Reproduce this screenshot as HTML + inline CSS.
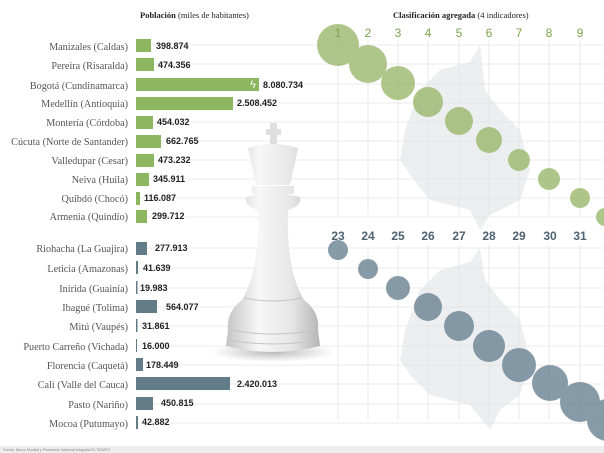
<!DOCTYPE html>
<html><head><meta charset="utf-8"><style>
body{margin:0;background:#fff}
svg{display:block}
.l{font-family:"Liberation Serif",serif;font-size:10.2px;fill:#555;text-anchor:end}
.v{font-family:"Liberation Sans",sans-serif;font-size:9px;font-weight:bold;fill:#222}
.n{font-family:"Liberation Sans",sans-serif;font-size:12px;text-anchor:middle}
</style></head><body>
<svg width="604" height="453" viewBox="0 0 604 453" xmlns="http://www.w3.org/2000/svg">
<defs>
<linearGradient id="k" x1="0" x2="1"><stop offset="0" stop-color="#c4c4c4"/><stop offset="0.35" stop-color="#f7f7f7"/><stop offset="0.7" stop-color="#e6e6e6"/><stop offset="1" stop-color="#b4b4b4"/></linearGradient>
<radialGradient id="sh"><stop offset="0" stop-color="#888" stop-opacity=".6"/><stop offset="1" stop-color="#999" stop-opacity="0"/></radialGradient>
</defs>
<path d="M480 45 L470 62 L440 70 L420 90 L405 130 L400 160 L410 175 L430 200 L470 210 L480 230 L490 215 L520 200 L530 170 L520 130 L500 110 L485 90 Z" fill="#eceef0"/>
<path d="M480 248 L470 262 L440 270 L420 290 L405 330 L400 360 L410 375 L430 395 L470 405 L490 430 L500 410 L520 395 L530 360 L520 320 L500 300 L485 280 Z" fill="#eceef0"/>
<g stroke="#e4e4e4" stroke-width="0.8">
<line x1="136" y1="45" x2="604" y2="45"/><line x1="136" y1="64" x2="604" y2="64"/><line x1="136" y1="84" x2="604" y2="84"/><line x1="136" y1="103" x2="604" y2="103"/><line x1="136" y1="122" x2="604" y2="122"/><line x1="136" y1="141" x2="604" y2="141"/><line x1="136" y1="160" x2="604" y2="160"/><line x1="136" y1="179" x2="604" y2="179"/><line x1="136" y1="198" x2="604" y2="198"/><line x1="136" y1="217" x2="604" y2="217"/>
<line x1="136" y1="248" x2="604" y2="248"/><line x1="136" y1="268" x2="604" y2="268"/><line x1="136" y1="288" x2="604" y2="288"/><line x1="136" y1="307" x2="604" y2="307"/><line x1="136" y1="326" x2="604" y2="326"/><line x1="136" y1="346" x2="604" y2="346"/><line x1="136" y1="365" x2="604" y2="365"/><line x1="136" y1="384" x2="604" y2="384"/><line x1="136" y1="404" x2="604" y2="404"/><line x1="136" y1="423" x2="604" y2="423"/>
<g id="vg"><line x1="338" y1="40" x2="338" y2="215"/><line x1="368" y1="40" x2="368" y2="215"/><line x1="398" y1="40" x2="398" y2="215"/><line x1="428" y1="40" x2="428" y2="215"/><line x1="459" y1="40" x2="459" y2="215"/><line x1="489" y1="40" x2="489" y2="215"/><line x1="519" y1="40" x2="519" y2="215"/><line x1="549" y1="40" x2="549" y2="215"/><line x1="580" y1="40" x2="580" y2="215"/></g>
<use href="#vg" y="205"/>
</g>
<text x="140" y="18" font-family="Liberation Serif,serif" font-size="8.5" fill="#222"><tspan font-weight="bold">Población</tspan> (miles de habitantes)</text>
<text x="393" y="18" font-family="Liberation Serif,serif" font-size="8.5" fill="#222"><tspan font-weight="bold">Clasificación agregada</tspan> (4 indicadores)</text>
<g fill="#8cb660">
<rect x="136" y="39" width="15" height="13"/><rect x="136" y="58" width="18" height="13"/><rect x="136" y="78" width="123" height="13"/><rect x="136" y="97" width="97" height="13"/><rect x="136" y="116" width="17" height="13"/><rect x="136" y="135" width="25" height="13"/><rect x="136" y="154" width="18" height="13"/><rect x="136" y="173" width="13" height="13"/><rect x="136" y="192" width="4" height="13"/><rect x="136" y="210" width="11" height="13"/>
</g>
<g fill="#627c88">
<rect x="136" y="242" width="11" height="13"/><rect x="136" y="261" width="2" height="13"/><rect x="136" y="281" width="1.5" height="13"/><rect x="136" y="300" width="21" height="13"/><rect x="136" y="319" width="1.5" height="13"/><rect x="136" y="339" width="1" height="13"/><rect x="136" y="358" width="7" height="13"/><rect x="136" y="377" width="94" height="13"/><rect x="136" y="397" width="17" height="13"/><rect x="136" y="416" width="2" height="13"/>
</g>
<g class="l">
<text x="128" y="50">Manizales  (Caldas)</text><text x="128" y="69">Pereira  (Risaralda)</text><text x="128" y="89">Bogotá (Cundinamarca)</text><text x="128" y="107">Medellín  (Antioquia)</text><text x="128" y="126">Montería  (Córdoba)</text><text x="128" y="145">Cúcuta  (Norte de Santander)</text><text x="128" y="164">Valledupar  (Cesar)</text><text x="128" y="183">Neiva  (Huila)</text><text x="128" y="202">Quibdó  (Chocó)</text><text x="128" y="220">Armenia  (Quindío)</text>
<text x="128" y="252">Riohacha (La Guajira)</text><text x="128" y="272">Leticia (Amazonas)</text><text x="128" y="292">Inírida (Guainía)</text><text x="128" y="311">Ibagué (Tolima)</text><text x="128" y="330">Mitú (Vaupés)</text><text x="128" y="350">Puerto Carreño (Vichada)</text><text x="128" y="369">Florencia (Caquetá)</text><text x="128" y="388">Cali (Valle del Cauca)</text><text x="128" y="408">Pasto (Nariño)</text><text x="128" y="427">Mocoa (Putumayo)</text>
</g>
<g class="v">
<text x="156" y="49">398.874</text><text x="158" y="68">474.356</text><text x="263" y="88">8.080.734</text><text x="237" y="106">2.508.452</text><text x="157" y="125">454.032</text><text x="166" y="144">662.765</text><text x="158" y="163">473.232</text><text x="153" y="182">345.911</text><text x="144" y="201">116.087</text><text x="152" y="219">299.712</text>
<text x="155" y="251">277.913</text><text x="143" y="271">41.639</text><text x="140" y="291">19.983</text><text x="166" y="310">564.077</text><text x="142" y="329">31.861</text><text x="142" y="349">16.000</text><text x="146" y="368">178.449</text><text x="237" y="387">2.420.013</text><text x="161" y="406">450.815</text><text x="142" y="425">42.882</text>
</g>
<text x="250" y="88" font-size="11" fill="#fff" font-family="Liberation Sans">ϟ</text>
<ellipse cx="273" cy="352" rx="62" ry="10" fill="url(#sh)"/>
<path d="M270 123h7v6h4v6h-4v12h-7v-12h-4v-6h4z" fill="#dedede"/>
<path d="M248 148 Q273 140 298 148 L290 185 L256 185 Z M252 186 h42 v8 h-42z M246 197 Q273 190 300 197 Q302 206 288 210 L258 210 Q244 206 246 197 Z M258 210 L288 210 Q286 270 304 300 Q320 312 318 330 L320 346 Q273 358 226 346 L228 330 Q226 312 242 300 Q260 270 258 210 Z" fill="url(#k)"/>
<path d="M230 330 Q273 338 316 330 M228 340 Q273 348 318 340 M244 298 Q273 304 302 298" stroke="#c4c4c4" fill="none"/>
<g fill="#9bb86e" opacity="0.8">
<circle cx="338" cy="45" r="21"/><circle cx="368" cy="64" r="19"/><circle cx="398" cy="83" r="17"/><circle cx="428" cy="102" r="15"/><circle cx="459" cy="121" r="14"/><circle cx="489" cy="140" r="13"/><circle cx="519" cy="160" r="11"/><circle cx="549" cy="179" r="11"/><circle cx="580" cy="198" r="10"/><circle cx="605" cy="217" r="9"/>
</g>
<g class="n" fill="#7aa24d">
<text x="338" y="37">1</text><text x="368" y="37">2</text><text x="398" y="37">3</text><text x="428" y="37">4</text><text x="459" y="37">5</text><text x="489" y="37">6</text><text x="519" y="37">7</text><text x="549" y="37">8</text><text x="580" y="37">9</text>
</g>
<g fill="#6a8292" opacity="0.8">
<circle cx="338" cy="250" r="10"/><circle cx="368" cy="269" r="10"/><circle cx="398" cy="288" r="12"/><circle cx="428" cy="307" r="14"/><circle cx="459" cy="326" r="15"/><circle cx="489" cy="346" r="16"/><circle cx="519" cy="365" r="17"/><circle cx="550" cy="383" r="18"/><circle cx="580" cy="402" r="20"/><circle cx="608" cy="420" r="21"/>
</g>
<g class="n" fill="#4f6270" font-weight="bold">
<text x="338" y="240">23</text><text x="368" y="240">24</text><text x="398" y="240">25</text><text x="428" y="240">26</text><text x="459" y="240">27</text><text x="489" y="240">28</text><text x="519" y="240">29</text><text x="550" y="240">30</text><text x="580" y="240">31</text>
</g>
<rect x="0" y="446" width="604" height="7" fill="#ededed"/>
<text x="3" y="451" font-family="Liberation Sans" font-size="3.5" fill="#888">Fuente: Banco Mundial y Planeación Nacional Infografía EL TIEMPO</text>
</svg>
</body></html>
